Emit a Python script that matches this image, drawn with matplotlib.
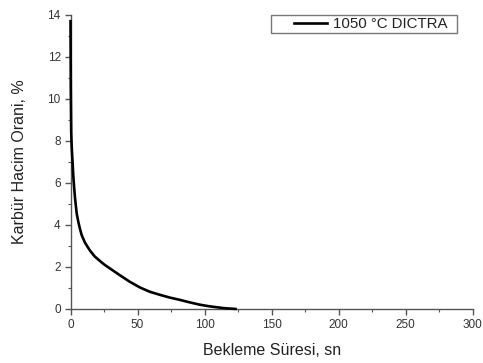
import matplotlib
matplotlib.use("Agg")
from matplotlib import pyplot as plt
from matplotlib.legend_handler import HandlerLine2D
from matplotlib.ticker import MultipleLocator

# DICTRA curve
time_s = [0, 0.2, 0.5, 0.9, 1.6, 2.1, 2.8, 3.4, 4.6, 5.8, 7.0, 8.3, 10.8, 14.5, 18, 22,
          25, 30, 36.9, 44, 51.8, 59, 66.7, 74, 81.6, 89, 96.5, 103, 109, 114, 118, 123]
carbide_pct = [13.7, 10.5, 8.4, 7.7, 6.9, 6.3, 5.7, 5.25, 4.55, 4.15, 3.82, 3.52, 3.15, 2.78,
               2.5, 2.28, 2.12, 1.9, 1.6, 1.3, 1.02, 0.82, 0.67, 0.54, 0.43, 0.31,
               0.2, 0.13, 0.08, 0.04, 0.02, 0.0]

plt.rcParams["font.family"] = ["Liberation Sans", "DejaVu Sans"]

fig = plt.figure(figsize=(4.83, 3.63), dpi=100)
ax = fig.add_axes([0.146, 0.149, 0.833, 0.81])

line, = ax.plot(time_s, carbide_pct, color="black", lw=1.9, label="1050 °C DICTRA  ",
                clip_on=False, zorder=3, solid_joinstyle="round")

ax.set_xlim(0, 300)
ax.set_ylim(0, 14)
ax.xaxis.set_major_locator(MultipleLocator(50))
ax.xaxis.set_minor_locator(MultipleLocator(25))
ax.yaxis.set_major_locator(MultipleLocator(2))
ax.yaxis.set_minor_locator(MultipleLocator(1))

for side in ["top", "right"]:
    ax.spines[side].set_visible(False)
for side in ["left", "bottom"]:
    ax.spines[side].set_color("#555555")
    ax.spines[side].set_linewidth(1.0)

ax.tick_params(which="major", direction="out", length=4, width=1, color="#555555",
               labelsize=8.5, labelcolor="#333333", pad=3)
ax.tick_params(which="minor", direction="out", length=2.5, width=0.8, color="#555555")

ax.set_xlabel("Bekleme Süresi, sn", fontsize=11.5, color="#222222", labelpad=9)
ax.set_ylabel("Karbür Hacim Orani, %", fontsize=11.5, color="#222222", labelpad=15)

# the legend line sits to the right of a blank gap inside the box
leg = ax.legend(loc="upper right", bbox_to_anchor=(0.96, 1.0), borderaxespad=0,
                fontsize=10.8, frameon=True, fancybox=False, handlelength=3.6,
                borderpad=0.15, handletextpad=0.35,
                handler_map={line: HandlerLine2D(xpad=1.4)})
leg.get_frame().set_edgecolor("#555555")
leg.get_frame().set_linewidth(1.0)
for t in leg.get_texts():
    t.set_color("#222222")

fig.savefig("out.png", dpi=100)
